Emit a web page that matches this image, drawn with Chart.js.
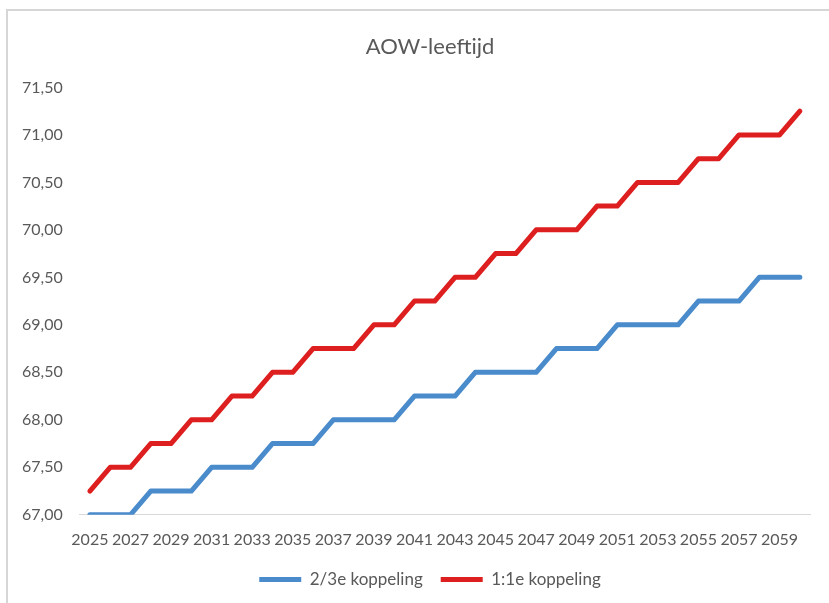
<!DOCTYPE html>
<html>
<head>
<meta charset="utf-8">
<script src="https://cdn.jsdelivr.net/npm/chart.js@4/dist/chart.umd.min.js"></script>
<style>
    html, body { margin: 0; padding: 0; background: #fff; }
    #wrap { position: relative; width: 829px; height: 603px; overflow: hidden; }
    #aow { position: absolute; left: 0; top: 0; }
    #frame {
        position: absolute; left: 6px; top: 9px; width: 900px; height: 700px;
        border-left: 2px solid #d6d6d6; border-top: 2px solid #d6d6d6;
        pointer-events: none;
    }
</style>
</head>
<body>
<div id="wrap">
    <!-- de grafiek loopt rechts iets buiten beeld, zoals in het origineel -->
    <canvas id="aow" width="855" height="598"></canvas>
    <div id="frame"></div>
</div>
<script>
// AOW-leeftijd per jaar, twee koppelingsvarianten
const YEARS = [
    '2025', '2026', '2027', '2028', '2029', '2030', '2031', '2032', '2033', '2034',
    '2035', '2036', '2037', '2038', '2039', '2040', '2041', '2042', '2043', '2044',
    '2045', '2046', '2047', '2048', '2049', '2050', '2051', '2052', '2053', '2054',
    '2055', '2056', '2057', '2058', '2059', '2060'
];

const KOPPELING_2_3 = [
    67.00, 67.00, 67.00, 67.25, 67.25, 67.25, 67.50, 67.50, 67.50, 67.75,
    67.75, 67.75, 68.00, 68.00, 68.00, 68.00, 68.25, 68.25, 68.25, 68.50,
    68.50, 68.50, 68.50, 68.75, 68.75, 68.75, 69.00, 69.00, 69.00, 69.00,
    69.25, 69.25, 69.25, 69.50, 69.50, 69.50
];

const KOPPELING_1_1 = [
    67.25, 67.50, 67.50, 67.75, 67.75, 68.00, 68.00, 68.25, 68.25, 68.50,
    68.50, 68.75, 68.75, 68.75, 69.00, 69.00, 69.25, 69.25, 69.50, 69.50,
    69.75, 69.75, 70.00, 70.00, 70.00, 70.25, 70.25, 70.50, 70.50, 70.50,
    70.75, 70.75, 71.00, 71.00, 71.00, 71.25
];

const Y_MIN = 67.0;
const Y_MAX = 71.5;
const Y_STEP = 0.5;

const FONT = 'Lato, "Open Sans", sans-serif';
const TEXT = '#595959';

function lineSet(label, data, color) {
    return {
        label: label,
        data: data,
        borderColor: color,
        backgroundColor: color,
        borderWidth: 5,
        pointRadius: 0,
        tension: 0,
        borderJoinStyle: 'round',
        borderCapStyle: 'round'
    };
}

new Chart(document.getElementById('aow'), {
    type: 'line',
    data: {
        labels: YEARS,
        datasets: [
            lineSet('2/3e koppeling', KOPPELING_2_3, '#4a8bcc'),
            lineSet('1:1e koppeling', KOPPELING_1_1, '#de1f1f')
        ]
    },
    options: {
        responsive: false,
        animation: false,
        layout: { padding: { left: 5, right: 0, top: 10, bottom: 0 } },
        plugins: {
            title: {
                display: true,
                text: 'AOW-leeftijd',
                color: TEXT,
                font: { family: FONT, size: 22, weight: 'normal' },
                padding: { top: 24, bottom: 27 }
            },
            legend: {
                position: 'bottom',
                labels: {
                    color: TEXT,
                    font: { family: FONT, size: 17 },
                    usePointStyle: true,
                    pointStyle: 'line',
                    pointStyleWidth: 42,
                    padding: 18
                }
            },
            tooltip: { enabled: false }
        },
        scales: {
            x: {
                offset: true,
                grid: { display: false, drawTicks: false },
                border: { color: '#d9d9d9', width: 1 },
                ticks: {
                    color: TEXT,
                    font: { family: FONT, size: 16 },
                    padding: 15,
                    autoSkip: false,
                    maxRotation: 0,
                    callback: function (v, i) { return i % 2 === 0 ? YEARS[i] : ''; }
                },
                // legenda iets dichter onder de jaartallen
                afterFit: function (scale) { scale.height -= 11; }
            },
            y: {
                min: Y_MIN,
                max: Y_MAX,
                grid: { display: false, drawTicks: false },
                border: { display: false },
                ticks: {
                    stepSize: Y_STEP,
                    color: TEXT,
                    font: { family: FONT, size: 16 },
                    padding: 17,
                    callback: function (v) { return v.toFixed(2).replace('.', ','); }
                }
            },
            // lege ruimte rechts van het plotvlak
            yRight: {
                type: 'linear',
                position: 'right',
                grid: { display: false, drawTicks: false },
                border: { display: false },
                ticks: { display: false },
                afterFit: function (scale) { scale.width = 45; }
            }
        }
    }
});
</script>
</body>
</html>
